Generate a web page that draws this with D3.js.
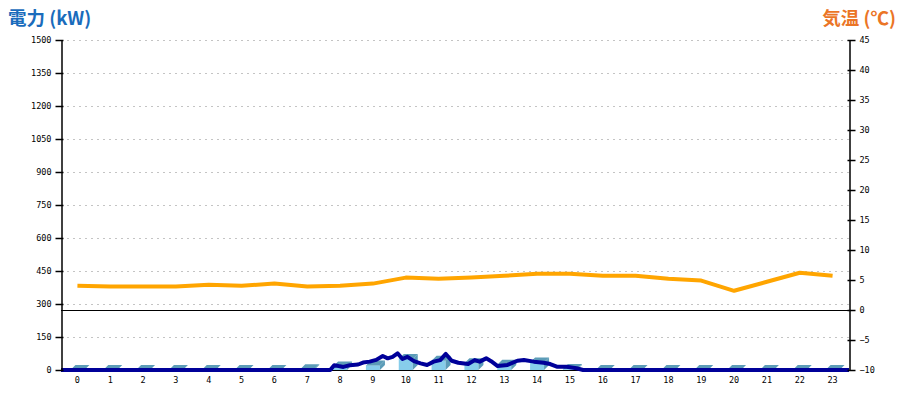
<!DOCTYPE html>
<html><head><meta charset="utf-8">
<script src="https://cdn.jsdelivr.net/npm/d3@7"></script>
<style>
html,body{margin:0;padding:0;background:#fff;}
svg{display:block;}
</style></head>
<body>
<svg id="chart" width="900" height="400"></svg>
<script>
// ---- data ----
const hours = d3.range(0, 24);
const barKW = [0,0,0,0,0,0,0,3,16,21,50,42,31,24,34,4,0,0,0,0,0,0,0,0];
const tempC = [4.05,3.9,3.9,3.9,4.2,4.05,4.4,3.9,4.05,4.4,5.4,5.2,5.4,5.7,6.05,6.05,5.7,5.7,5.2,4.9,3.2,4.7,6.2,5.7];
const powerHours = [0,8.2,8.32,8.45,8.6,8.8,9.05,9.2,9.4,9.6,9.8,9.95,10.1,10.25,10.4,10.55,10.75,10.95,11.15,11.35,11.55,11.72,11.9,12.1,12.4,12.6,12.75,12.95,13.1,13.3,13.6,13.9,14.1,14.4,14.7,14.9,15.1,15.4,15.7,15.9,24];
const powerKW    = [0,0,22,18,14,22,25,34,38,46,64,53,60,76,50,60,40,30,23,38,45,73,42,33,27,45,38,53,40,18,23,42,45,38,33,27,15,15,8,0,0];
const leftTicks = [0,150,300,450,600,750,900,1050,1200,1350,1500];
const rightTicks = [-10,-5,0,5,10,15,20,25,30,35,40,45];
const leftTitle = "電力 (kW)";
const rightTitle = "気温 (℃)";

// ---- layout ----
const L = 61, R = 849, T = 40, B = 370;
const svg = d3.select("#chart");
const x = d3.scaleBand().domain(hours).range([L, R]).padding(0);
const xt = d3.scaleLinear().domain([0, 24]).range([L, R]);
const yL = d3.scaleLinear().domain([0, 1500]).range([B, T]);
const yR = d3.scaleLinear().domain([-10, 45]).range([B, T]);
const tickFont = "'DejaVu Sans Mono', monospace";

// grid
svg.append("g").selectAll("line").data(leftTicks.filter(d => d > 0)).join("line")
  .attr("x1", L).attr("x2", R).attr("y1", d => yL(d) + 0.5).attr("y2", d => yL(d) + 0.5)
  .attr("stroke", "#c4c4c4").attr("stroke-width", 1).attr("stroke-dasharray", "2,4");

// temperature zero line
svg.append("line").attr("x1", L).attr("x2", R).attr("y1", Math.round(yR(0)) + 0.5).attr("y2", Math.round(yR(0)) + 0.5)
  .attr("stroke", "#000").attr("stroke-width", 1);
// baseline
svg.append("line").attr("x1", L).attr("x2", R).attr("y1", B + 0.5).attr("y2", B + 0.5)
  .attr("stroke", "#000").attr("stroke-width", 1);

// 3D bars
const fw = 14, dx = 5, dy = 5;
const bars = svg.append("g");
hours.forEach((h, i) => {
  const c = x(h) + x.bandwidth() / 2;
  const x0 = c - 7, x1 = x0 + fw;
  const yt = yL(barKW[i]);
  if (B - yt > 0) {
    bars.append("rect").attr("x", x0).attr("y", yt).attr("width", fw).attr("height", B - yt).attr("fill", "#87cdeb");
    bars.append("path").attr("d", `M${x1},${yt}L${x1+dx},${yt-dy}L${x1+dx},${B-dy}L${x1},${B}Z`).attr("fill", "#5c9cb8");
  }
  bars.append("path").attr("d", `M${x0},${yt}L${x0+dx},${yt-dy}L${x1+dx},${yt-dy}L${x1},${yt}Z`).attr("fill", "#5c9cb8");
});

// temperature line
svg.append("path").datum(tempC)
  .attr("d", d3.line().x((d, i) => x(hours[i]) + x.bandwidth() / 2).y(d => yR(d)))
  .attr("fill", "none").attr("stroke", "#ffa500").attr("stroke-width", 4).attr("stroke-linejoin", "round");

// power line
svg.append("path").datum(powerHours.map((h, i) => [h, powerKW[i]]))
  .attr("d", d3.line().x(d => xt(d[0])).y(d => yL(d[1])))
  .attr("fill", "none").attr("stroke", "#000099").attr("stroke-width", 4).attr("stroke-linejoin", "round");

// axes
const gl = svg.append("g").attr("transform", `translate(${L + 0.5},0)`)
  .call(d3.axisLeft(yL).tickValues(leftTicks).tickSizeInner(6).tickSizeOuter(0).tickPadding(4).tickFormat(d3.format("d")));
gl.selectAll(".tick line").attr("x1", 2);
const gr = svg.append("g").attr("transform", `translate(${R + 0.5},0)`)
  .call(d3.axisRight(yR).tickValues(rightTicks).tickSizeInner(6).tickSizeOuter(0).tickPadding(4));
gr.selectAll(".tick line").attr("x1", -2);
[gl, gr].forEach(g => {
  g.select(".domain").attr("stroke", "#000").attr("stroke-width", 1.5);
  g.selectAll(".tick line").attr("stroke", "#000").attr("stroke-width", 1.5);
  g.selectAll("text").attr("font-family", tickFont).attr("font-size", 8.5).attr("fill", "#000");
});

// x labels
svg.append("g").selectAll("text").data(hours).join("text")
  .attr("x", d => x(d) + x.bandwidth() / 2).attr("y", 383)
  .attr("text-anchor", "middle").attr("font-family", tickFont).attr("font-size", 8.5).attr("fill", "#000")
  .text(d => d);

// titles
svg.append("text").attr("x", 8).attr("y", 25).attr("font-family", "'Noto Sans CJK JP', sans-serif")
  .attr("font-weight", "bold").attr("font-size", 18.5).attr("fill", "#1a6cbc").text(leftTitle);
svg.append("text").attr("x", 896).attr("y", 25).attr("text-anchor", "end").attr("font-family", "'Noto Sans CJK JP', sans-serif")
  .attr("font-weight", "bold").attr("font-size", 18.5).attr("fill", "#eb7526").text(rightTitle);
</script>
</body></html>
